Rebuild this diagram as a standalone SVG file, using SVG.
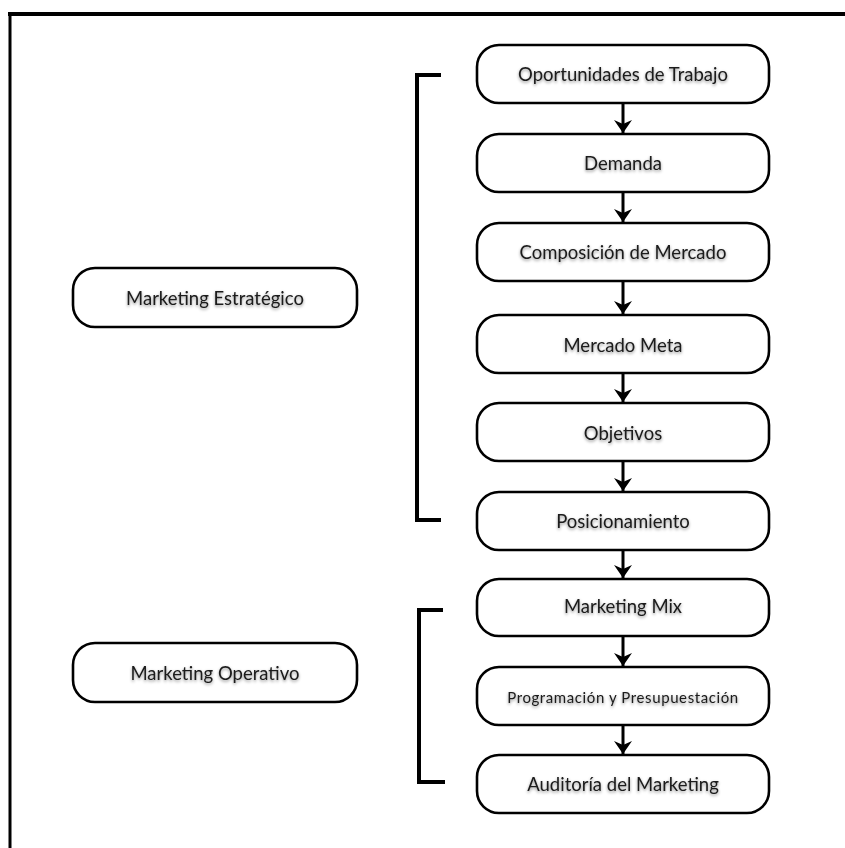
<svg xmlns="http://www.w3.org/2000/svg" width="845" height="848" viewBox="0 0 845 848">
  <defs>
    <filter id="txtShadow" x="-10%" y="-40%" width="120%" height="200%">
      <feDropShadow dx="0" dy="1.5" stdDeviation="1.5" flood-color="#000" flood-opacity="0.45"/>
    </filter>
    <!-- barbed arrowhead, drawn pointing along +x -->
    <marker id="arrow" viewBox="0 0 16 18" refX="15" refY="9" markerWidth="16" markerHeight="18" markerUnits="userSpaceOnUse" orient="auto">
      <path d="M2,0 L15,9 L2,18 L6,9 Z" fill="#000"/>
    </marker>
    <style>
      .node rect { fill: #fff; stroke: #000; stroke-width: 2.6; }
      .node text { font-family: "Lato", "Liberation Sans", sans-serif; font-size: 18.5px; fill: #1a1a1a; text-anchor: middle; dominant-baseline: central; filter: url(#txtShadow); }
      .node text.small { font-size: 15px; letter-spacing: 0.6px; }
      .conn line { stroke: #000; stroke-width: 3; }
      .bracket { fill: none; stroke: #000; stroke-width: 4; }
    </style>
  </defs>
  <rect x="0" y="0" width="845" height="848" fill="#fff"/>

  <!-- frame -->
  <line x1="8" y1="14" x2="845" y2="14" stroke="#000" stroke-width="4"/>
  <line x1="10" y1="12" x2="10" y2="848" stroke="#000" stroke-width="3"/>

  <!-- brackets -->
  <path class="bracket" d="M441,75 H417 V520 H441"/>
  <path class="bracket" d="M443,610 H419 V782 H445"/>

  <!-- connectors -->
  <g class="conn">
    <line x1="623" y1="103" x2="623" y2="133" marker-end="url(#arrow)"/>
    <line x1="623" y1="192" x2="623" y2="222" marker-end="url(#arrow)"/>
    <line x1="623" y1="281" x2="623" y2="314" marker-end="url(#arrow)"/>
    <line x1="623" y1="373" x2="623" y2="402" marker-end="url(#arrow)"/>
    <line x1="623" y1="461" x2="623" y2="491" marker-end="url(#arrow)"/>
    <line x1="623" y1="550" x2="623" y2="578" marker-end="url(#arrow)"/>
    <line x1="623" y1="636" x2="623" y2="666" marker-end="url(#arrow)"/>
    <line x1="623" y1="725" x2="623" y2="754" marker-end="url(#arrow)"/>
  </g>

  <!-- left column -->
  <g id="marketing-estrategico" class="node">
    <rect x="73" y="268" width="284" height="59" rx="22"/>
    <text x="215" y="298">Marketing Estratégico</text>
  </g>
  <g id="marketing-operativo" class="node">
    <rect x="73" y="643" width="284" height="59" rx="22"/>
    <text x="215" y="673">Marketing Operativo</text>
  </g>

  <!-- right column -->
  <g id="oportunidades" class="node">
    <rect x="477" y="45" width="292" height="58" rx="22"/>
    <text x="623" y="74">Oportunidades de Trabajo</text>
  </g>
  <g id="demanda" class="node">
    <rect x="477" y="134" width="292" height="58" rx="22"/>
    <text x="623" y="163">Demanda</text>
  </g>
  <g id="composicion" class="node">
    <rect x="477" y="223" width="292" height="58" rx="22"/>
    <text x="623" y="252">Composición de Mercado</text>
  </g>
  <g id="mercado-meta" class="node">
    <rect x="477" y="315" width="292" height="58" rx="22"/>
    <text x="623" y="345">Mercado Meta</text>
  </g>
  <g id="objetivos" class="node">
    <rect x="477" y="403" width="292" height="58" rx="22"/>
    <text x="623" y="433">Objetivos</text>
  </g>
  <g id="posicionamiento" class="node">
    <rect x="477" y="492" width="292" height="58" rx="22"/>
    <text x="623" y="521">Posicionamiento</text>
  </g>
  <g id="marketing-mix" class="node">
    <rect x="477" y="579" width="292" height="57" rx="22"/>
    <text x="623" y="606">Marketing Mix</text>
  </g>
  <g id="programacion" class="node">
    <rect x="477" y="667" width="292" height="58" rx="22"/>
    <text class="small" x="623" y="697">Programación y Presupuestación</text>
  </g>
  <g id="auditoria" class="node">
    <rect x="477" y="755" width="292" height="58" rx="22"/>
    <text x="623" y="784">Auditoría del Marketing</text>
  </g>
</svg>
